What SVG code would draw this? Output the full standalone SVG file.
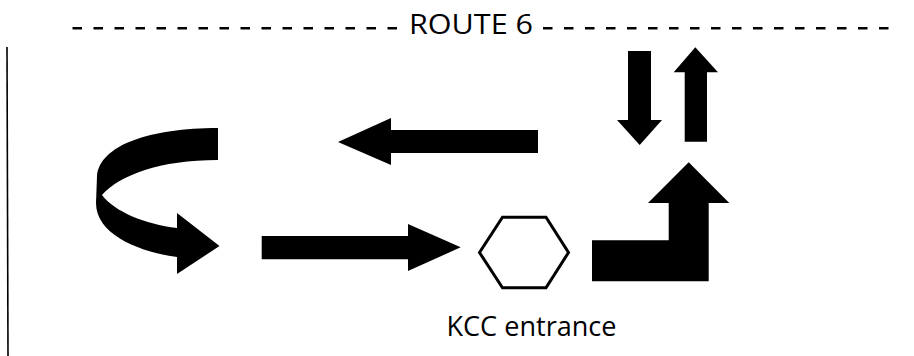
<svg xmlns="http://www.w3.org/2000/svg" width="914" height="356" viewBox="0 0 914 356">
  <style>
    .dash { stroke: #000; stroke-width: 2.6; stroke-dasharray: 9.5 11.5; fill: none; }
    .label { font-family: "Open Sans", "Liberation Sans", sans-serif; fill: #000; }
    .arrow { fill: #000; stroke: none; }
    .hex { fill: #fff; stroke: #000; stroke-width: 3; stroke-linejoin: miter; }
  </style>
  <rect x="0" y="0" width="914" height="356" fill="#fff"/>

  <g id="title">
    <line class="dash" x1="72.5" y1="28.3" x2="398" y2="28.3"/>
    <line class="dash" x1="543" y1="28.3" x2="891" y2="28.3"/>
    <text class="label" x="409" y="33.5" font-size="27" textLength="124" lengthAdjust="spacingAndGlyphs">ROUTE 6</text>
  </g>

  <g id="border">
    <line x1="7" y1="47" x2="8" y2="356" stroke="#000" stroke-width="1.6"/>
  </g>

  <g id="kcc-entrance">
    <polygon class="hex" points="479.5,252.5 502.5,217.3 546,217.3 568.5,252.5 546,287.8 502.5,287.8"/>
    <text class="label" x="446.5" y="335.7" font-size="26.5" textLength="170" lengthAdjust="spacingAndGlyphs">KCC entrance</text>
  </g>

  <g id="connectors">
    <!-- U-turn curved arrow -->
    <path id="uturn-arrow" class="arrow" d="M218,128 C150,128 100,145 97,176 L96,203 C96,235 140,252 177,257 L177,274 L219.5,246 L177,213 L177,228 C145,224 115,212 102,195 C120,175 160,160 218,160 Z"/>
    <!-- left-pointing arrow -->
    <polygon id="left-arrow" class="arrow" points="338,142 391,118 391,130 538,130 538,153 391,153 391,165"/>
    <!-- right-pointing arrow -->
    <polygon id="right-arrow" class="arrow" points="261.7,236 408,236 408,224 460.7,247.3 408,271 408,259.3 261.7,259.3"/>
    <!-- down arrow -->
    <polygon id="down-arrow" class="arrow" points="628,51 651,51 651,120 662,120 639.7,145 617,120 628,120"/>
    <!-- up arrow -->
    <polygon id="up-arrow" class="arrow" points="695.3,47.3 718,72.3 707,72.3 707,141.7 684.7,141.7 684.7,72.3 673.7,72.3"/>
    <!-- bent up arrow -->
    <polygon id="bent-arrow" class="arrow" points="592,240.3 668.7,240.3 668.7,203 648,203 688.7,162.3 729.3,203 708.7,203 708.7,281.3 592,281.3"/>
  </g>
</svg>
